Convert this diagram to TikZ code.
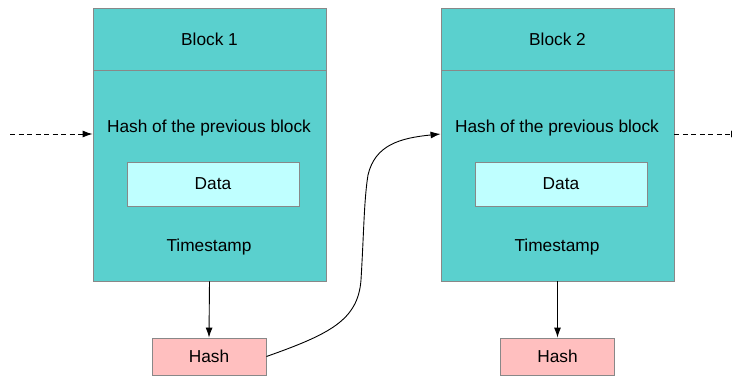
\documentclass[tikz,border=0pt]{standalone}
\usepackage{fontspec}
\setmainfont{Liberation Sans}
\usetikzlibrary{arrows.meta}
\begin{document}
\begin{tikzpicture}[x=1pt,y=-1pt,>={Latex[length=10pt,width=7pt]}]
        \definecolor{blockteal}{HTML}{5AD0CE}
        \definecolor{datacyan}{HTML}{BFFFFF}
        \definecolor{hashpink}{HTML}{FFBFBF}
        \definecolor{edgegray}{HTML}{888888}
        \tikzstyle{every node}=[inner sep=0pt, font=\fontsize{17.3}{20}\selectfont]
        \tikzstyle{box}=[draw=edgegray, line width=0.9pt, rectangle]
        \tikzstyle{head}=[box, fill=blockteal, minimum width=233pt, minimum height=62pt]
        \tikzstyle{body}=[box, fill=blockteal, minimum width=233pt, minimum height=211pt]
        \tikzstyle{databox}=[box, fill=datacyan, minimum width=172pt, minimum height=44pt]
        \tikzstyle{hashbox}=[box, fill=hashpink, minimum width=114pt, minimum height=37pt]
        \tikzstyle{link}=[->, line width=0.9pt]
        \tikzstyle{loose}=[link, dash pattern=on 5pt off 3.5pt]
        \useasboundingbox (0,0) rectangle (732,376);
        % block 1
        \node[body] (body1) at (209.5,175.5) {};
        \node[head] (head1) at (209.5,39) {\raisebox{-1pt}{Block 1}};
        \node (prev1) at (209,128) {Hash of the previous block};
        \node[databox] (data1) at (213,184) {\raisebox{-1pt}{Data}};
        \node (time1) at (209,247) {Timestamp};
        \node[hashbox] (hash1) at (209,356.5) {Hash};
        % block 2
        \node[body] (body2) at (557.5,175.5) {};
        \node[head] (head2) at (557.5,39) {\raisebox{-1pt}{Block 2}};
        \node (prev2) at (557,128) {Hash of the previous block};
        \node[databox] (data2) at (561,184) {\raisebox{-1pt}{Data}};
        \node (time2) at (557,247) {Timestamp};
        \node[hashbox] (hash2) at (557.5,356.5) {Hash};
        % links
        \coordinate (in1) at (10,134);
        \coordinate (out2) at (741,134);
        \draw[loose] (in1) -- (in1 -| body1.west);
        \draw[loose] (out2 -| body2.east) -- (out2);
        \draw[link] (body1.south) -- (hash1.north);
        \draw[link] (body2.south) -- (hash2.north);
        \draw[link] (hash1.east) .. controls (330,334) and (358,320) .. (361,280)
                .. controls (364,230) and (364,200) .. (368,175)
                .. controls (375,145) and (400,138) .. (in1 -| body2.west);
\end{tikzpicture}
\end{document}
